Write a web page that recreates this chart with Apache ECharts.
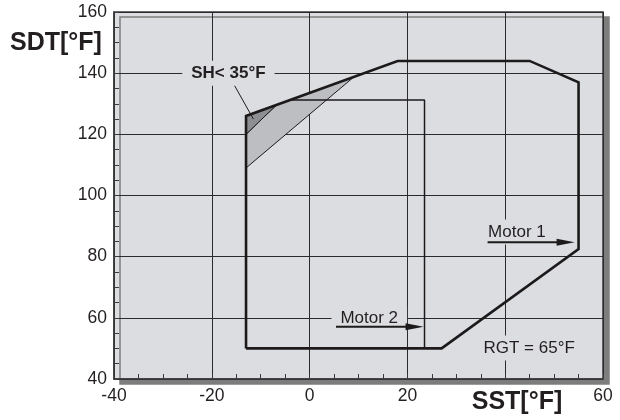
<!DOCTYPE html>
<html>
<head>
<meta charset="utf-8">
<script src="https://cdn.jsdelivr.net/npm/echarts@6/dist/echarts.min.js"></script>
<style>html,body{margin:0;padding:0;background:#fff}#chart{width:620px;height:420px}</style>
</head>
<body>
<div id="chart"></div>
<script>
// ---- data (°F) ----
const sstRange = [-40, 60];
const sdtRange = [40, 160];
const sstHiddenTick = 40; // covered by the axis title in the original
const envelopeOuter = [[-13,50],[-13,126],[18,144],[45,144],[55,137],[55,82.5],[27,50],[-13,50]];
const envelopeMotor2 = [[-4,131.2],[23.5,131.2],[23.5,50]];
const shLight = [[-13,120],[-6.7,129.7],[9,138.7],[-13,109]];
const shDark = [[-13,126],[-6.7,129.7],[-13,120]];
const arrowMotor1 = [[36.4,84.7],[54.2,84.7]];
const arrowMotor2 = [[5.4,57.1],[23.3,57.1]];
const leaderSH = [[-15.4,136.1],[-11.5,125]];
const labelTexts = ['SH< 35°F','Motor 1','Motor 2','RGT = 65°F'];
const labelAnchors = [[-16.6,140],[42.4,88.1],[12.2,60],[44.9,50.1]];
const axisTitleX = 'SST[°F]';
const axisTitleY = 'SDT[°F]';

const FONT = '"Liberation Sans", Arial, Helvetica, sans-serif';
const INK = '#1c1a1b';
const BG = '#dcdde0';

const chart = echarts.init(document.getElementById('chart'), null, {renderer:'canvas'});

function polygonSeries(points, fill, z) {
  return {
    type:'custom', z:z, silent:true, data:[points[0]],
    renderItem:(params, api) => ({
      type:'polygon',
      shape:{points: points.map(p => api.coord(p))},
      style:{fill:fill, stroke:INK, lineWidth:1}
    })
  };
}

const arrows = [arrowMotor1, arrowMotor2];
const labelBold = [true,false,false,false];

chart.setOption({
  animation:false,
  grid:{left:114, right:17, top:12, bottom:41, show:true, backgroundColor:BG,
        borderColor:'#3a3a3a', borderWidth:1.5,
        shadowColor:'#7d7d7d', shadowOffsetX:6, shadowOffsetY:5, shadowBlur:0},
  xAxis:{type:'value', min:sstRange[0], max:sstRange[1], interval:20,
    axisLine:{show:true, onZero:false, lineStyle:{color:'#3a3a3a', width:1.5}},
    axisTick:{show:true, inside:true, length:5, lineStyle:{color:'#3a3a3a'}},
    minorTick:{show:true, splitNumber:4, length:5, lineStyle:{color:'#3a3a3a'}},
    splitLine:{show:true, lineStyle:{color:'#2a2a2a', width:1}},
    axisLabel:{color:'#231f20', fontSize:17.5, fontFamily:FONT, margin:8,
      formatter: v => v === sstHiddenTick ? '' : String(v)}
  },
  yAxis:{type:'value', min:sdtRange[0], max:sdtRange[1], interval:20,
    axisLine:{show:true, onZero:false, lineStyle:{color:'#3a3a3a', width:1.5}},
    axisTick:{show:true, inside:true, length:5, lineStyle:{color:'#3a3a3a'}},
    minorTick:{show:true, splitNumber:4, length:5, lineStyle:{color:'#3a3a3a'}},
    splitLine:{show:true, lineStyle:{color:'#2a2a2a', width:1}},
    axisLabel:{color:'#231f20', fontSize:17.5, fontFamily:FONT, margin:7}
  },
  graphic:[
    {type:'text', x:10, y:43, style:{text:axisTitleY, font:'bold 25px '+FONT, fill:'#231f20',
      textAlign:'left', textVerticalAlign:'middle', align:'left', verticalAlign:'middle'}},
    {type:'text', x:517, y:402, style:{text:axisTitleX, font:'bold 25px '+FONT, fill:'#231f20',
      textAlign:'center', textVerticalAlign:'middle', align:'center', verticalAlign:'middle'}}
  ],
  series:[
    polygonSeries(shLight, '#bdbec1', 3),
    polygonSeries(shDark, '#8d8e91', 4),
    {type:'line', z:5, data:envelopeMotor2, showSymbol:false, symbol:'none', silent:true,
     lineStyle:{color:INK, width:1.5}},
    {type:'line', z:6, data:envelopeOuter, showSymbol:false, symbol:'none', silent:true,
     lineStyle:{color:INK, width:2.6, join:'miter'}},
    {type:'line', z:6, data:leaderSH, showSymbol:false, symbol:'none', silent:true,
     lineStyle:{color:INK, width:1}},
    {type:'custom', z:7, silent:true, data:labelAnchors,
     renderItem:(params, api) => {
       const i = params.dataIndex;
       const p = api.coord(labelAnchors[i]);
       return {type:'text', x:p[0], y:p[1], style:{
         text:labelTexts[i], font:(labelBold[i]?'bold ':'')+'17px '+FONT, fill:'#231f20',
         textAlign:'center', textVerticalAlign:'middle', align:'center', verticalAlign:'middle',
         backgroundColor:BG, padding:[4,9]}};
     }},
    {type:'custom', z:8, silent:true, data:arrows.map(a => a[0]),
     renderItem:(params, api) => {
       const a = arrows[params.dataIndex];
       const p0 = api.coord(a[0]), p1 = api.coord(a[1]);
       const hl = 18, hw = 3.5;
       return {type:'group', children:[
         {type:'line', shape:{x1:p0[0], y1:p0[1], x2:p1[0]-hl+2, y2:p1[1]}, style:{stroke:INK, lineWidth:2}},
         {type:'polygon', shape:{points:[[p1[0],p1[1]],[p1[0]-hl,p1[1]-hw],[p1[0]-hl,p1[1]+hw]]}, style:{fill:INK}}
       ]};
     }}
  ]
});
</script>
</body>
</html>
